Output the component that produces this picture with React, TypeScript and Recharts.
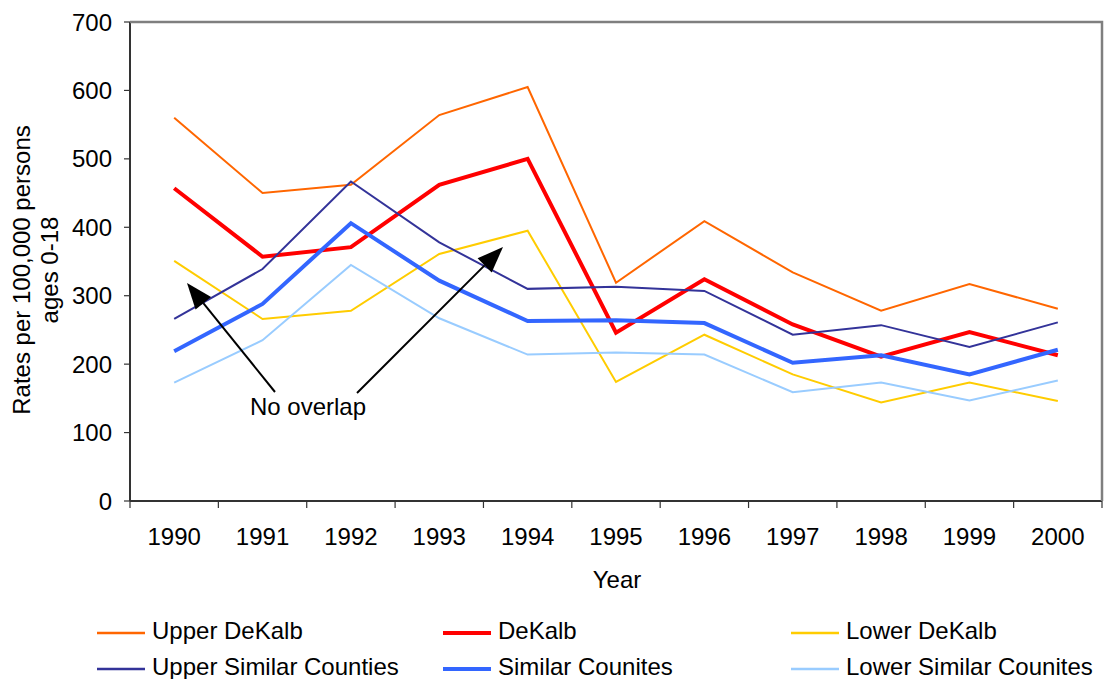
import React from 'react';
import { LineChart, Line, XAxis, YAxis } from 'recharts';

const years = ['1990', '1991', '1992', '1993', '1994', '1995', '1996', '1997', '1998', '1999', '2000'];
const upperDeKalb = [560, 450, 462, 564, 605, 319, 409, 334, 278, 317, 281];
const deKalb = [457, 357, 371, 462, 500, 246, 324, 258, 211, 247, 213];
const lowerDeKalb = [351, 266, 278, 361, 395, 174, 243, 185, 144, 173, 146];
const upperSimilar = [266, 339, 467, 378, 310, 313, 307, 243, 257, 225, 261];
const similar = [219, 288, 406, 322, 263, 264, 260, 202, 213, 185, 221];
const lowerSimilar = [173, 235, 345, 267, 214, 217, 214, 159, 173, 147, 176];
const yTicks = [0, 100, 200, 300, 400, 500, 600, 700];

const seriesNames = [
  'Upper DeKalb',
  'DeKalb',
  'Lower DeKalb',
  'Upper Similar Counties',
  'Similar Counites',
  'Lower Similar Counites',
];
const seriesValues = [upperDeKalb, deKalb, lowerDeKalb, upperSimilar, similar, lowerSimilar];
const seriesColors = ['#FF6600', '#FF0000', '#FFCC00', '#333399', '#3366FF', '#99CCFF'];
const seriesWidths = [2, 4, 2, 2, 4, 2];

const data = years.map((y, i) => {
  const row: Record<string, any> = { year: y };
  seriesNames.forEach((n, s) => {
    row['s' + s] = seriesValues[s][i];
  });
  return row;
});

const FONT = "Arial, 'Liberation Sans', sans-serif";
const AXIS = '#333333';
const FRAME = '#7f7f7f';

const W = 1104;
const H = 679;
const MARGIN = { top: 22, right: 2, bottom: 78, left: 60 };
const Y_AXIS_W = 70;
const X_AXIS_H = 100;
const plotLeft = MARGIN.left + Y_AXIS_W;
const plotRight = W - MARGIN.right;
const plotTop = MARGIN.top;
const plotBottom = H - MARGIN.bottom - X_AXIS_H;

const XTick = (props: any) => {
  const { x, y, payload, index, visibleTicksCount } = props;
  const off = payload.offset || 0;
  const last = index === visibleTicksCount - 1;
  return (
    <g>
      <line x1={x - off} x2={x - off} y1={y} y2={y + 7} stroke={AXIS} strokeWidth={1.2} />
      {last && <line x1={x + off} x2={x + off} y1={y} y2={y + 7} stroke={AXIS} strokeWidth={1.2} />}
      <text x={x} y={y + 44} textAnchor="middle" fontSize={24} fontFamily={FONT} fill="#000">
        {payload.value}
      </text>
    </g>
  );
};

const arrowHead = (tail: [number, number], tip: [number, number]) => {
  const dx = tip[0] - tail[0];
  const dy = tip[1] - tail[1];
  const len = Math.sqrt(dx * dx + dy * dy);
  const ux = dx / len;
  const uy = dy / len;
  const L = 26;
  const HW = 10;
  const bx = tip[0] - ux * L;
  const by = tip[1] - uy * L;
  const p1 = `${tip[0]},${tip[1]}`;
  const p2 = `${bx - uy * HW},${by + ux * HW}`;
  const p3 = `${bx + uy * HW},${by - ux * HW}`;
  return { pts: `${p1} ${p2} ${p3}`, bx, by };
};

const Arrow = ({ tail, tip }: { tail: [number, number]; tip: [number, number] }) => {
  const h = arrowHead(tail, tip);
  return (
    <g>
      <line x1={tail[0]} y1={tail[1]} x2={h.bx} y2={h.by} stroke="#000" strokeWidth={2} />
      <polygon points={h.pts} fill="#000" />
    </g>
  );
};

const legendCols = [97, 443, 791];
const legendRows = [633, 669];

export default function App() {
  return (
    <div style={{ position: 'absolute', left: 0, top: 0, width: W, height: H, background: '#fff' }}>
      <div style={{ position: 'absolute', left: 0, top: 0 }}>
        <LineChart width={W} height={H} data={data} margin={MARGIN}>
          <XAxis
            dataKey="year"
            scale="band"
            height={X_AXIS_H}
            tickSize={0}
            tickMargin={0}
            tickLine={false}
            interval={0}
            axisLine={{ stroke: AXIS, strokeWidth: 2 }}
            tick={<XTick />}
          />
          <YAxis
            width={Y_AXIS_W}
            domain={[0, 700]}
            ticks={yTicks}
            interval={0}
            tickSize={6}
            tickMargin={12}
            axisLine={{ stroke: AXIS, strokeWidth: 2 }}
            tickLine={{ stroke: AXIS, strokeWidth: 1.2 }}
            tick={{ fontSize: 24, fontFamily: FONT, fill: '#000' }}
          />
          {seriesNames.map((n, s) => (
            <Line
              key={n}
              dataKey={'s' + s}
              name={n}
              stroke={seriesColors[s]}
              strokeWidth={seriesWidths[s]}
              dot={false}
              activeDot={false}
              type="linear"
              isAnimationActive={false}
            />
          ))}
        </LineChart>
      </div>
      <svg
        width={W}
        height={H}
        style={{ position: 'absolute', left: 0, top: 0, pointerEvents: 'none' }}
        fontFamily={FONT}
      >
        <path
          d={`M${plotLeft},${plotTop} H${plotRight} V${plotBottom}`}
          fill="none"
          stroke={FRAME}
          strokeWidth={2.5}
        />
        <text transform="translate(30,270) rotate(-90)" textAnchor="middle" fontSize={24} fill="#000">
          <tspan x={0} y={0}>Rates per 100,000 persons</tspan>
          <tspan x={0} y={28}>ages 0-18</tspan>
        </text>
        <text x={617} y={588} textAnchor="middle" fontSize={24} fill="#000">
          Year
        </text>
        <Arrow tail={[275, 392]} tip={[187, 283]} />
        <Arrow tail={[357, 393]} tip={[503, 247]} />
        <text x={250} y={415} fontSize={24} fill="#000">
          No overlap
        </text>
        {seriesNames.map((n, s) => {
          const cx = legendCols[s % 3];
          const cy = legendRows[Math.floor(s / 3)];
          return (
            <g key={n}>
              <line x1={cx} x2={cx + 48} y1={cy} y2={cy} stroke={seriesColors[s]} strokeWidth={seriesWidths[s] === 4 ? 4 : 2.5} />
              <text x={cx + 55} y={cy + 6} fontSize={24} fill="#000">
                {n}
              </text>
            </g>
          );
        })}
      </svg>
    </div>
  );
}
